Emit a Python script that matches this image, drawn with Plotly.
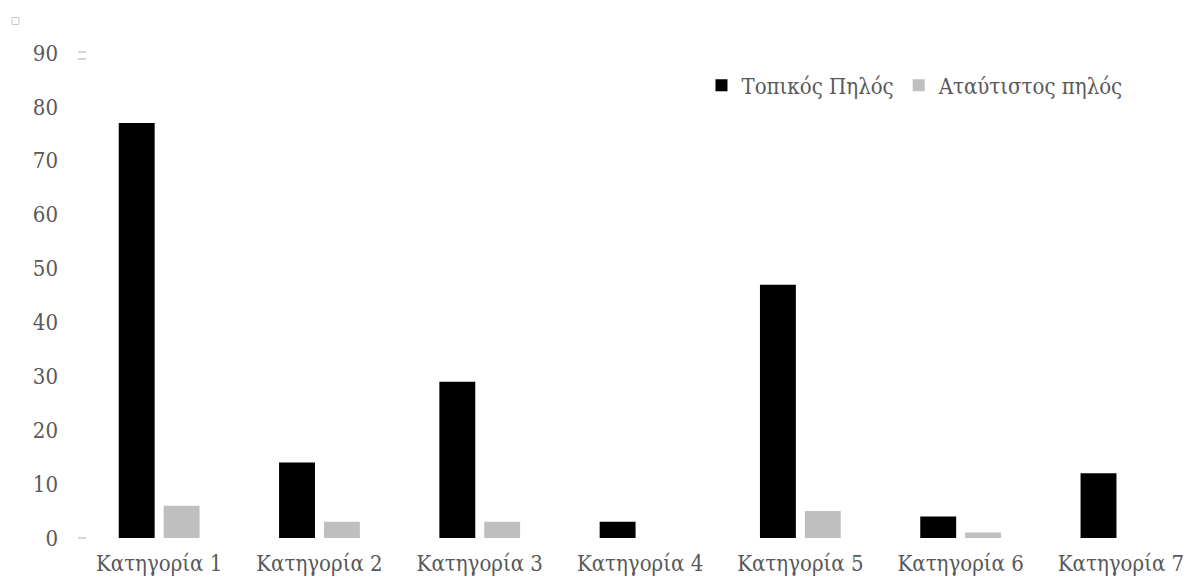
import plotly.graph_objects as go

categories = ["Κατηγορία 1", "Κατηγορία 2", "Κατηγορία 3", "Κατηγορία 4",
              "Κατηγορία 5", "Κατηγορία 6", "Κατηγορία 7"]
local_clay = [77, 14, 29, 3, 47, 4, 12]
unfired_clay = [6, 3, 3, 0, 5, 1, 0]
y_ticks = [0, 10, 20, 30, 40, 50, 60, 70, 80, 90]

FONT = "DejaVu Serif Condensed, DejaVu Serif"
TEXT_COLOR = "#595959"
MARK_COLOR = "#d6d6d6"

fig = go.Figure()
fig.add_trace(go.Bar(x=categories, y=local_clay, name="Τοπικός Πηλός",
                     marker=dict(color="#000000", line=dict(width=0))))
fig.add_trace(go.Bar(x=categories, y=unfired_clay, name="Αταύτιστος πηλός",
                     marker=dict(color="#bfbfbf", line=dict(width=0))))

# leftover light-grey marks of the original export
fig.add_shape(type="rect", xref="paper", yref="paper",
              x0=-0.0605, x1=-0.0542, y0=1.0588, y1=1.0733,
              line=dict(color="#c8c8c8", width=1))
for yy in (1.0021, 0.9876, 0.0):
    fig.add_shape(type="line", xref="paper", yref="paper",
                  x0=-0.0009, x1=0.0063, y0=yy, y1=yy,
                  line=dict(color=MARK_COLOR, width=2))

fig.update_layout(
    width=1187,
    height=581,
    margin=dict(l=79, r=0, t=53, b=43),
    paper_bgcolor="white",
    plot_bgcolor="white",
    barmode="group",
    bargap=0.44,
    bargroupgap=0.2,
    font=dict(family=FONT, size=22, color=TEXT_COLOR),
    showlegend=True,
    legend=dict(
        orientation="h",
        x=0.5618, xanchor="left",
        y=0.933, yanchor="middle",
        font=dict(family=FONT, size=22, color=TEXT_COLOR),
        itemwidth=30,
        bgcolor="rgba(0,0,0,0)",
    ),
    xaxis=dict(
        range=[-0.5, 6.412],
        showgrid=False,
        showline=False,
        zeroline=False,
        ticks="",
        ticklabelstandoff=10,
    ),
    yaxis=dict(
        range=[0, 90],
        tickvals=y_ticks,
        showgrid=False,
        showline=False,
        zeroline=False,
        ticks="",
        ticklabelstandoff=20,
    ),
)

# drop the page's default body margin so the figure fills the window
fig.write_html(
    "out.html",
    config={"displayModeBar": False},
    post_script="document.body.style.margin = '0';",
)
